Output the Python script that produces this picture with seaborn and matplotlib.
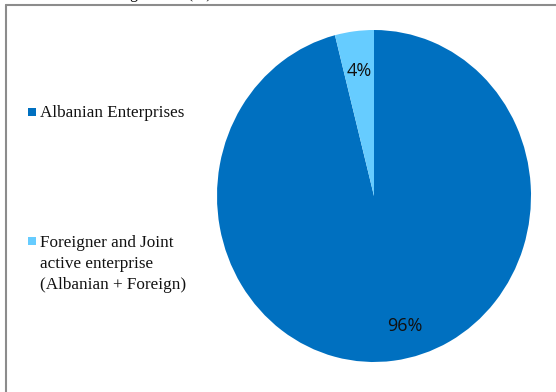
import matplotlib
matplotlib.use("Agg")
import matplotlib.pyplot as plt
from matplotlib.patches import Rectangle
from matplotlib.lines import Line2D
import seaborn as sns

sns.set_theme(style="white")

# Share of active enterprises by ownership
categories = ["Albanian Enterprises",
              "Foreigner and Joint\nactive enterprise\n(Albanian + Foreign)"]
shares = [96, 4]
colors = ["#0070C0", "#66CCFF"]
title = "Active firms with foreign share (%)"

W, H = 556, 392
fig = plt.figure(figsize=(W / 100, H / 100), dpi=100)

# pie axes: centre (374, 196) px, radii 157 x 166 px
cx, cy, rx, ry = 374, 196, 157, 166
ax = fig.add_axes([(cx - rx) / W, (H - cy - ry) / H, 2 * rx / W, 2 * ry / H])

wedges, texts, autotexts = ax.pie(
    shares, colors=colors, startangle=90, counterclock=False,
    autopct="%1.0f%%", pctdistance=0.76,
    wedgeprops=dict(linewidth=0),
    textprops=dict(fontsize=13, color="#111111", family="Open Sans"),
)
ax.set_xlim(-1, 1)
ax.set_ylim(-1, 1)
ax.set_aspect("auto")
ax.axis("off")

# nudge the large-slice label toward the lower right
x0, y0 = autotexts[0].get_position()
autotexts[0].set_position((x0 + 0.1, y0 - 0.03))

# legend on the left, drawn as swatches and serif labels
serif = "Liberation Serif"
swatch_y = [112, 241]
text_top = [105, 235]
for lab, col, sy, ty in zip(categories, colors, swatch_y, text_top):
    fig.patches.append(Rectangle((28 / W, 1 - (sy + 4) / H), 8 / W, 8 / H,
                                 transform=fig.transFigure, color=col, lw=0))
    fig.text(39.5 / W, 1 - ty / H, lab, family=serif, fontsize=12.3,
             color="#111111", va="top", ha="left", linespacing=1.4)

# outer frame (top and left edges)
frame_col = "#8c8c8c"
fig.lines.append(Line2D([5.5 / W, 1], [1 - 4.5 / H, 1 - 4.5 / H],
                        transform=fig.transFigure, color=frame_col, lw=1.5))
fig.lines.append(Line2D([5.5 / W, 5.5 / W], [0, 1 - 4.5 / H],
                        transform=fig.transFigure, color=frame_col, lw=1.5))

# title sits mostly above the frame
fig.text(212 / W, 1 + 1.5 / H, title, family=serif, fontsize=11.5,
         ha="right", va="baseline", color="#111111")

fig.savefig("out.png", dpi=100)
